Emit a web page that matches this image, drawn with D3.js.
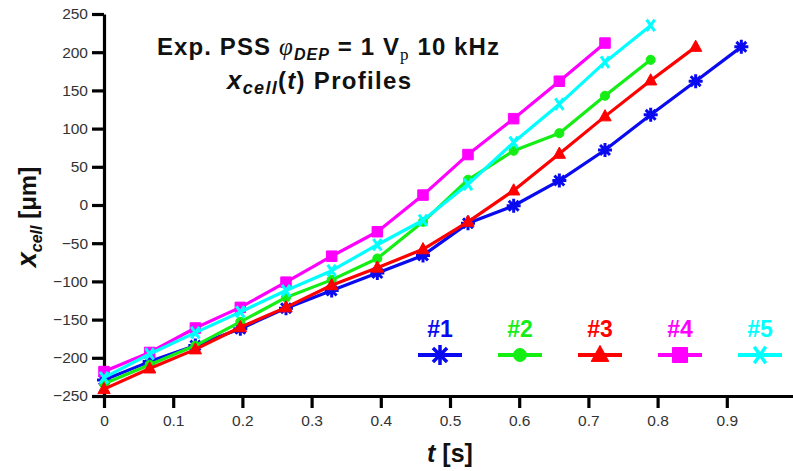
<!DOCTYPE html>
<html>
<head>
<meta charset="utf-8">
<script src="https://cdn.jsdelivr.net/npm/d3@7"></script>
<style>
  body { margin: 0; background: #fff; }
  svg { display: block; font-family: "Liberation Sans", Arial, sans-serif; }
</style>
</head>
<body>
<svg id="chart" width="793" height="471"></svg>
<script>
// Frame times [s]
const times = [0, 0.066, 0.132, 0.197, 0.263, 0.329, 0.395, 0.461, 0.526, 0.592, 0.658, 0.724, 0.790, 0.855, 0.921];

// Cell position x_cell [µm] per frame, one array per tracked cell
const cell1 = [-229, -205, -184, -162, -135, -112, -89, -66, -24, -1, 32, 72, 118, 162, 207];
const cell2 = [-234, -209, -184, -153, -121, -98, -70, -22, 33, 71, 94, 143, 190];
const cell3 = [-241, -214, -189, -160, -134, -105, -82, -58, -22, 19, 67, 116, 163, 207];
const cell4 = [-218, -193, -161, -134, -101, -67, -35, 13, 66, 113, 162, 212];
const cell5 = [-226, -195, -167, -140, -112, -86, -52, -20, 27, 82, 132, 187, 235];

const cellNames = ["#1", "#2", "#3", "#4", "#5"];
const cellColors = ["#0a0af0", "#14ee14", "#ff0000", "#ff00ff", "#00ffff"];
const cellMarkers = ["asterisk", "circle", "triangle", "square", "cross"];

const xTicks = [0, 0.1, 0.2, 0.3, 0.4, 0.5, 0.6, 0.7, 0.8, 0.9];
const yTicks = [-250, -200, -150, -100, -50, 0, 50, 100, 150, 200, 250];

const series = [cell1, cell2, cell3, cell4, cell5].map((vals, i) => ({
  name: cellNames[i],
  color: cellColors[i],
  marker: cellMarkers[i],
  points: vals.map((v, j) => ({ t: times[j], x: v }))
}));

const svg = d3.select("#chart");

const x = d3.scaleLinear().domain([0, 1]).range([104, 796]);
const y = d3.scaleLinear().domain([-250, 250]).range([396, 14]);

// Marker shapes
function markerPath(kind, s) {
  const p = d3.path();
  if (kind === "asterisk") {
    for (let k = 0; k < 4; k++) {
      const a = k * Math.PI / 4;
      p.moveTo(-s * Math.cos(a), -s * Math.sin(a));
      p.lineTo(s * Math.cos(a), s * Math.sin(a));
    }
  } else if (kind === "cross") {
    const a = 55 * Math.PI / 180;
    p.moveTo(-s * Math.cos(a), -s * Math.sin(a));
    p.lineTo(s * Math.cos(a), s * Math.sin(a));
    p.moveTo(-s * Math.cos(a), s * Math.sin(a));
    p.lineTo(s * Math.cos(a), -s * Math.sin(a));
  } else if (kind === "circle") {
    p.arc(0, 0, s * 0.65, 0, 2 * Math.PI);
  } else if (kind === "triangle") {
    const h = s * 1.6;
    p.moveTo(0, -h * 0.6);
    p.lineTo(h * 0.55, h * 0.4);
    p.lineTo(-h * 0.55, h * 0.4);
    p.closePath();
  } else if (kind === "square") {
    const h = s * 0.75;
    p.rect(-h, -h, 2 * h, 2 * h);
  }
  return p.toString();
}
const isStroked = k => k === "asterisk" || k === "cross";

// Axes (the x axis line runs on to the right edge)
const xAxis = svg.append("g")
  .attr("transform", `translate(0,${y(-250)})`)
  .call(d3.axisBottom(x).tickValues(xTicks).tickSize(12).tickSizeOuter(0).tickPadding(7)
    .tickFormat(d => String(d)));
const yAxis = svg.append("g")
  .attr("transform", `translate(${x(0)},0)`)
  .call(d3.axisLeft(y).tickValues(yTicks).tickSize(12).tickSizeOuter(0).tickPadding(4));

[xAxis, yAxis].forEach(g => {
  g.select(".domain").attr("stroke", "#000").attr("stroke-width", 3.2);
  g.selectAll(".tick line").attr("stroke", "#000").attr("stroke-width", 3.2);
  g.selectAll(".tick text").attr("fill", "#333").attr("font-size", 15.5)
    .attr("font-family", "'Liberation Sans', Arial, sans-serif");
});

// Data lines and markers
const line = d3.line().x(d => x(d.t)).y(d => y(d.x));
series.forEach(s => {
  const g = svg.append("g");
  g.append("path")
    .attr("d", line(s.points))
    .attr("fill", "none")
    .attr("stroke", s.color)
    .attr("stroke-width", 3.2)
    .attr("stroke-linejoin", "round");
  g.selectAll("path.m").data(s.points).join("path")
    .attr("class", "m")
    .attr("transform", d => `translate(${x(d.t)},${y(d.x)})`)
    .attr("d", markerPath(s.marker, 7))
    .attr("fill", isStroked(s.marker) ? "none" : s.color)
    .attr("stroke", s.color)
    .attr("stroke-width", isStroked(s.marker) ? 3 : 1);
});

// Legend
const legendX = d3.scalePoint().domain(cellNames).range([440, 760]);
series.forEach(s => {
  const cx = legendX(s.name);
  svg.append("text")
    .attr("x", cx).attr("y", 337)
    .attr("text-anchor", "middle")
    .attr("font-size", 23).attr("font-weight", "bold")
    .attr("fill", s.color)
    .text(s.name);
  svg.append("line")
    .attr("x1", cx - 22).attr("x2", cx + 22)
    .attr("y1", 355).attr("y2", 355)
    .attr("stroke", s.color).attr("stroke-width", 4);
  svg.append("path")
    .attr("transform", `translate(${cx},355)`)
    .attr("d", markerPath(s.marker, 10))
    .attr("fill", isStroked(s.marker) ? "none" : s.color)
    .attr("stroke", s.color)
    .attr("stroke-width", isStroked(s.marker) ? 3.5 : 1);
});

// Title
const t1 = svg.append("text")
  .attr("x", 157).attr("y", 55)
  .attr("font-size", 24).attr("font-weight", "bold").attr("fill", "#111")
  .attr("letter-spacing", 1.1);
t1.append("tspan").text("Exp. PSS ");
t1.append("tspan").attr("font-family", "'Liberation Serif', serif").attr("font-style", "italic")
  .attr("font-weight", "normal").attr("font-size", 25).text("φ");
t1.append("tspan").attr("font-style", "italic").attr("font-size", 16).attr("dy", 5).text("DEP");
t1.append("tspan").attr("dy", -5).text(" = 1 V");
t1.append("tspan").attr("font-family", "'Liberation Serif', serif").attr("font-weight", "normal")
  .attr("font-size", 17).attr("dy", 5).text("p");
t1.append("tspan").attr("dy", -5).text(" 10 kHz");

const t2 = svg.append("text")
  .attr("x", 227).attr("y", 89)
  .attr("font-size", 24).attr("font-weight", "bold").attr("fill", "#111")
  .attr("letter-spacing", 1.3);
t2.append("tspan").attr("font-style", "italic").attr("font-size", 26).text("x");
t2.append("tspan").attr("font-style", "italic").attr("font-size", 18).attr("dy", 5).text("cell");
t2.append("tspan").attr("dy", -5).text("(");
t2.append("tspan").attr("font-style", "italic").text("t");
t2.append("tspan").text(") Profiles");

// Axis titles
const yl = svg.append("text")
  .attr("transform", "translate(36,217) rotate(-90)")
  .attr("text-anchor", "middle")
  .attr("font-size", 24).attr("font-weight", "bold").attr("fill", "#111");
yl.append("tspan").attr("font-style", "italic").attr("font-size", 27).text("x");
yl.append("tspan").attr("font-style", "italic").attr("font-size", 16).attr("dy", 6).text("cell");
yl.append("tspan").attr("dy", -6).text(" [μm]");

const xl = svg.append("text")
  .attr("x", 450).attr("y", 462)
  .attr("text-anchor", "middle")
  .attr("font-size", 25).attr("font-weight", "bold").attr("fill", "#111");
xl.append("tspan").attr("font-style", "italic").text("t");
xl.append("tspan").text(" [s]");
</script>
</body>
</html>
